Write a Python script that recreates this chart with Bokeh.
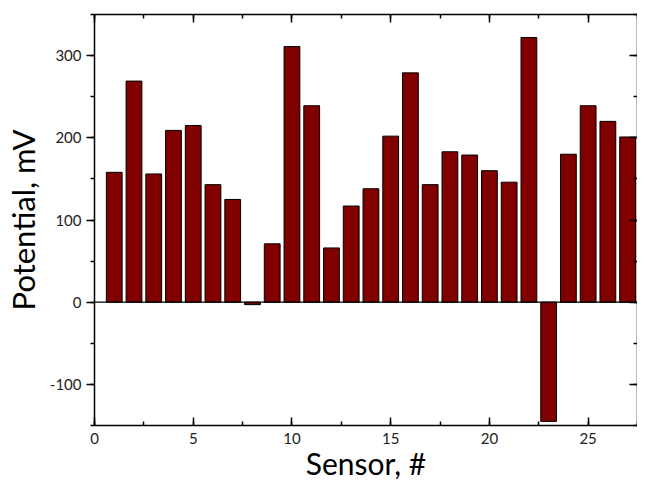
from bokeh.plotting import figure
from bokeh.models import (LinearAxis, SingleIntervalTicker, Span, Range1d, ColumnDataSource,
                          PrintfTickFormatter, CustomJSTickFormatter)
from bokeh.embed import file_html
from bokeh.resources import INLINE

sensors = list(range(1, 28))
potential = [158, 269, 156, 209, 215, 143, 125, -3, 71, 311, 239, 66, 117, 138,
             202, 279, 143, 183, 179, 160, 146, 322, -145, 180, 239, 220, 201]

x_label = "Sensor, #"
y_label = "Potential, mV"
x_start, x_end = 0, 27.5
y_start, y_end = -150, 350

src = ColumnDataSource(dict(x=sensors, top=potential))

FONT = "Lato"

p = figure(width=637, height=483, output_backend="svg", toolbar_location=None,
           x_range=Range1d(x_start, x_end), y_range=Range1d(y_start, y_end),
           x_axis_location=None, y_axis_location=None,
           min_border_left=85, min_border_top=14, min_border_right=0, min_border_bottom=0)
p.grid.visible = False
p.outline_line_color = None
p.background_fill_color = "white"
p.border_fill_color = "white"

p.vbar(x="x", top="top", bottom=0, width=0.8, source=src,
       fill_color="#800000", line_color="black", line_width=1)
p.add_layout(Span(location=0, dimension="width", line_color="black", line_width=1.2))

xt = SingleIntervalTicker(interval=5, num_minor_ticks=2)
yt = SingleIntervalTicker(interval=100, num_minor_ticks=2)

def style(ax, tin, tout, labels=True):
    ax.axis_line_color = "black"
    ax.axis_line_width = 1.5
    ax.major_tick_line_color = "black"
    ax.minor_tick_line_color = "black"
    ax.major_tick_line_width = 1.5
    ax.minor_tick_line_width = 1.5
    ax.major_tick_in = tin
    ax.major_tick_out = tout
    ax.minor_tick_in = tin // 2
    ax.minor_tick_out = tout // 2
    if labels:
        ax.formatter = PrintfTickFormatter(format="%d")
        ax.major_label_text_font = FONT
        ax.major_label_text_font_size = "15px"
        ax.major_label_text_color = "#222222"
        ax.axis_label_text_font = FONT
        ax.axis_label_text_font_size = "30px"
        ax.axis_label_text_font_style = "normal"
        ax.axis_label_text_color = "black"
    else:
        ax.formatter = CustomJSTickFormatter(code="return '';")
        ax.major_label_text_font_size = "0px"
        ax.major_label_standoff = 0

bottom = LinearAxis(ticker=xt, axis_label=x_label)
style(bottom, 8, 0)
bottom.major_label_standoff = 7
bottom.axis_label_standoff = -2
left = LinearAxis(ticker=yt, axis_label=y_label)
style(left, 0, 8)
left.major_label_standoff = 5
left.axis_label_standoff = 5
left.axis_label_text_font_size = "31px"
top = LinearAxis(ticker=xt)
style(top, 8, 0, labels=False)
right = LinearAxis(ticker=yt)
style(right, 8, 0, labels=False)

p.add_layout(bottom, "below")
p.add_layout(left, "left")
p.add_layout(top, "above")
p.add_layout(right, "right")

open("out.html", "w").write(file_html(p, INLINE))
